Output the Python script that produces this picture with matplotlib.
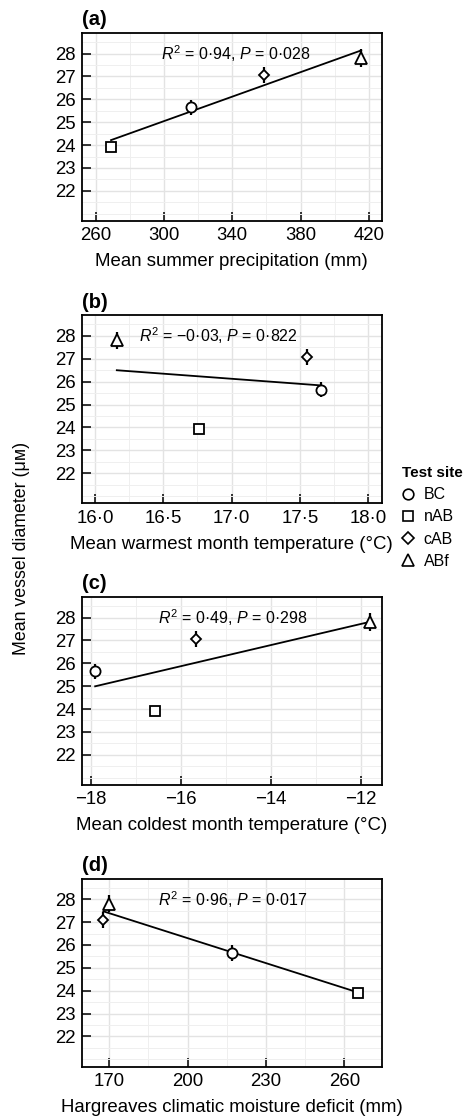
import numpy as np
import matplotlib
matplotlib.use('Agg')
import matplotlib.pyplot as plt
from matplotlib.lines import Line2D
from matplotlib.ticker import FixedLocator, FuncFormatter

plt.rcParams['font.family'] = ['Liberation Sans', 'DejaVu Sans']
plt.rcParams['mathtext.fontset'] = 'custom'
plt.rcParams['mathtext.rm'] = 'Liberation Sans'
plt.rcParams['mathtext.it'] = 'Liberation Sans:italic'

# site means
sites = ['BC', 'nAB', 'cAB', 'ABf']
vessel_diam = [25.65, 23.92, 27.08, 27.80]
vessel_se = [0.33, 0.15, 0.35, 0.38]

summer_precip = [316.0, 269.0, 358.7, 415.5]
warmest_temp = [17.65, 16.76, 17.55, 16.16]
coldest_temp = [-17.91, -16.57, -15.67, -11.80]
moisture_deficit = [217.2, 265.4, 167.8, 170.1]

panel_tags = ['(a)', '(b)', '(c)', '(d)']
x_titles = ['Mean summer precipitation (mm)',
            'Mean warmest month temperature (°C)',
            'Mean coldest month temperature (°C)',
            'Hargreaves climatic moisture deficit (mm)']
stat_texts = [r'$R^2$ = 0·94, $P$ = 0·028',
              r'$R^2$ = −0·03, $P$ = 0·822',
              r'$R^2$ = 0·49, $P$ = 0·298',
              r'$R^2$ = 0·96, $P$ = 0·017']
x_ticks = [[260, 300, 340, 380, 420],
           [16.0, 16.5, 17.0, 17.5, 18.0],
           [-18, -16, -14, -12],
           [170, 200, 230, 260]]
x_minor = [[280, 320, 360, 400],
           [16.25, 16.75, 17.25, 17.75],
           [-17, -15, -13],
           [185, 215, 245]]
x_lims = [(251.8, 427.5), (15.903, 18.097), (-18.21, -11.54), (159.5, 274.3)]
text_x = [342, 16.9, -14.84, 217.5]
y_ticks = [22, 23, 24, 25, 26, 27, 28]
y_minor = [20.5, 21.0, 21.5, 22.5, 23.5, 24.5, 25.5, 26.5, 27.5, 28.5]

markers = {'BC': 'o', 'nAB': 's', 'cAB': 'D', 'ABf': '^'}
msizes = {'BC': 7.3, 'nAB': 6.6, 'cAB': 5.6, 'ABf': 8.6}


def fmt_dot(v, pos):
    return f'{v:.1f}'.replace('.', '·')


def fmt_int(v, pos):
    return f'{v:.0f}'.replace('-', '−')


fig = plt.figure(figsize=(4.64, 11.19), dpi=100)
bottoms = [0.8025, 0.5502, 0.2985, 0.0468]
left, width, height = 0.176, 0.6466, 0.168

all_x = [summer_precip, warmest_temp, coldest_temp, moisture_deficit]
for i, xs in enumerate(all_x):
    ax = fig.add_axes([left, bottoms[i], width, height])
    xs = np.array(xs)
    ys = np.array(vessel_diam)

    # regression through site means
    slope, icpt = np.polyfit(xs, ys, 1)
    xl = np.array([xs.min(), xs.max()])
    ax.plot(xl, slope * xl + icpt, color='black', lw=1.3, zorder=3)

    ax.errorbar(xs, ys, yerr=vessel_se, fmt='none', ecolor='black',
                elinewidth=1.6, capsize=0, zorder=4)
    for j, s in enumerate(sites):
        ax.plot(xs[j], ys[j], marker=markers[s], ms=msizes[s], mfc='white',
                mec='black', mew=1.3, ls='none', zorder=5)

    ax.text(text_x[i], 28, stat_texts[i], ha='center', va='center', fontsize=11.5)

    ax.set_xlim(*x_lims[i])
    ax.set_ylim(20.68, 28.9)
    ax.xaxis.set_major_locator(FixedLocator(x_ticks[i]))
    ax.xaxis.set_minor_locator(FixedLocator(x_minor[i]))
    ax.yaxis.set_major_locator(FixedLocator(y_ticks))
    ax.yaxis.set_minor_locator(FixedLocator(y_minor))
    ax.xaxis.set_major_formatter(FuncFormatter(fmt_dot if i == 1 else fmt_int))

    ax.grid(which='major', color='#e3e3e3', lw=1.0, zorder=0)
    ax.grid(which='minor', color='#efefef', lw=0.7, zorder=0)
    ax.set_axisbelow(True)
    ax.tick_params(which='major', direction='in', length=6.5, width=1.1,
                   labelsize=13.4, pad=4.5, colors='black')
    ax.tick_params(which='minor', length=0)
    for sp in ax.spines.values():
        sp.set_linewidth(1.3)
    ax.set_xlabel(x_titles[i], fontsize=13.4, labelpad=6.5)
    ax.text(0.0, 1.02, panel_tags[i], transform=ax.transAxes, ha='left',
            va='bottom', fontsize=14.5, fontweight='bold')

fig.text(0.047, 0.51, 'Mean vessel diameter (μᴍ)', rotation=90,
         ha='center', va='center', fontsize=12.8)

handles = [Line2D([], [], marker=markers[s], ms=msizes[s] * 1.05, mfc='white',
                  mec='black', mew=1.2, ls='none') for s in sites]
leg = fig.legend(handles, sites, title='Test site', loc='upper left',
                 bbox_to_anchor=(0.866, 0.5835), frameon=False, fontsize=11.5,
                 handlelength=0.79, handletextpad=0.59, labelspacing=0.45,
                 borderpad=0, borderaxespad=0, alignment='left',
                 title_fontproperties={'weight': 'bold', 'size': 11})

fig.savefig('out.png', dpi=100)
